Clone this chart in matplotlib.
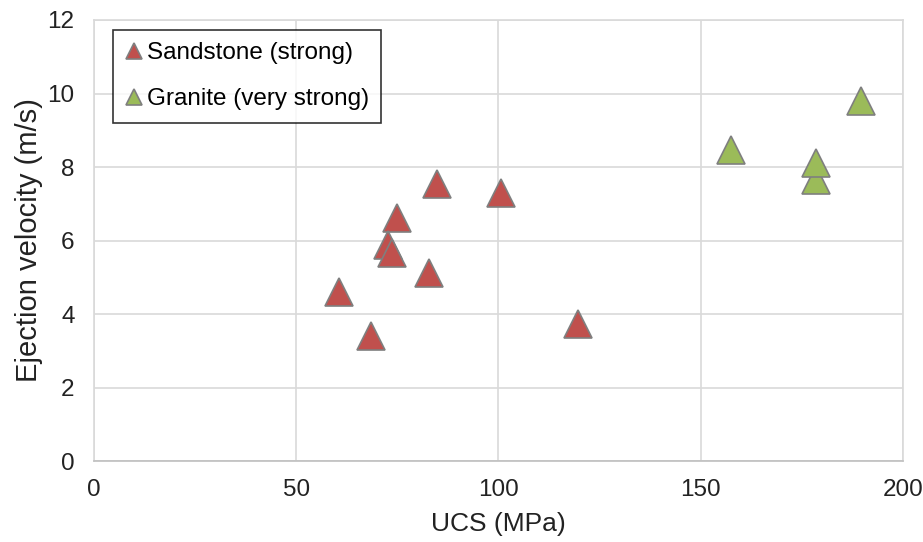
import matplotlib
matplotlib.use("Agg")
import matplotlib.pyplot as plt

plt.rcParams['font.family'] = ['Liberation Sans', 'DejaVu Sans']

# UCS (MPa) and ejection velocity (m/s)
sandstone_ucs = [84.8, 100.7, 74.8, 72.6, 73.8, 82.8, 60.7, 68.6, 119.6]
sandstone_vel = [7.55, 7.30, 6.60, 5.88, 5.65, 5.11, 4.61, 3.40, 3.72]
granite_ucs = [157.4, 178.5, 178.5, 189.6]
granite_vel = [8.45, 7.65, 8.10, 9.80]

x_ticks = [0, 50, 100, 150, 200]
y_ticks = [0, 2, 4, 6, 8, 10, 12]

fig = plt.figure(figsize=(9.23, 5.42), dpi=100)
ax = fig.add_axes([0.1018, 0.1494, 0.8765, 0.8137])

ax.plot(sandstone_ucs, sandstone_vel, linestyle='none', marker='^',
        markersize=20, markerfacecolor='#C0504D', markeredgecolor='#7F7F7F',
        markeredgewidth=1.2, label='Sandstone (strong)', zorder=3)
ax.plot(granite_ucs, granite_vel, linestyle='none', marker='^',
        markersize=20, markerfacecolor='#9BBB59', markeredgecolor='#7F7F7F',
        markeredgewidth=1.2, label='Granite (very strong)', zorder=3)

ax.set_xlim(0, 200)
ax.set_ylim(0, 12)
ax.set_xticks(x_ticks)
ax.set_yticks(y_ticks)
ax.tick_params(length=0, labelsize=17.5, colors='#222222')
ax.tick_params(axis='x', pad=13)
ax.tick_params(axis='y', pad=14)
ax.grid(True, color='#D9D9D9', linewidth=1.2)
ax.set_axisbelow(True)
for s in ax.spines.values():
    s.set_color('#D9D9D9')
    s.set_linewidth(1.2)
ax.spines['bottom'].set_color('#BFBFBF')

ax.set_xlabel('UCS (MPa)', fontsize=19, color='#222222', labelpad=8)
ax.set_ylabel('Ejection velocity (m/s)', fontsize=21, color='#222222', labelpad=3)

leg = ax.legend(loc='upper left', bbox_to_anchor=(113 / 923, 1 - 30 / 542),
                bbox_transform=fig.transFigure, borderaxespad=0,
                fontsize=17.5, markerscale=0.55,
                frameon=True, fancybox=False, edgecolor='black',
                handlelength=0.7, handletextpad=0.2, borderpad=0.5,
                labelspacing=1.0)
leg.get_frame().set_linewidth(1.2)

fig.savefig('out.png', dpi=100)
